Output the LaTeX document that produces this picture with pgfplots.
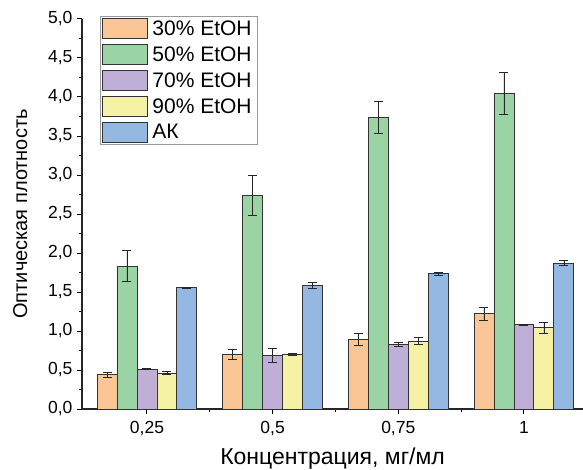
\documentclass[border=0pt]{standalone}
\usepackage{pgfplots}
\pgfplotsset{compat=1.18}
\usepackage{pgfplotstable}
\usepackage{fontspec}
\setmainfont{Liberation Sans}
\definecolor{cO}{HTML}{FAC696}
\definecolor{cG}{HTML}{9BD4A4}
\definecolor{cP}{HTML}{BFAED6}
\definecolor{cY}{HTML}{F5F2A6}
\definecolor{cB}{HTML}{95B8E2}
\pgfplotstableread{
x o oe g ge p pe y ye b be
1 0.44 0.03 1.83 0.20 0.51 0.008 0.46 0.02 1.555 0.008
2 0.70 0.07 2.74 0.26 0.69 0.09 0.70 0.01 1.58 0.04
3 0.89 0.08 3.74 0.21 0.83 0.03 0.87 0.045 1.735 0.018
4 1.22 0.08 4.05 0.27 1.08 0.005 1.04 0.065 1.87 0.035
}\data
\begin{document}
\begin{tikzpicture}
\begin{axis}[
  at={(0,0)}, anchor=south west,
  scale only axis, width=501pt, height=390pt,
  xmin=0.483, xmax=4.47, ymin=0, ymax=5,
  axis x line*=bottom, axis y line*=left,
  axis line style={-, line width=1.3pt, black!85},
  ybar=0pt, bar width=0.159,
  xtick={1,2,3,4}, xticklabels={{0,25},{0,5},{0,75},1},
  minor xtick={1.5,2.5,3.5},
  ytick={0,0.5,...,5}, minor y tick num=1,
  tick align=outside, major tick length=5pt, minor tick length=3pt,
  tick style={black, line width=1pt},
  /pgf/number format/assume math mode=true,
  tick label style={font=\fontsize{17.5}{20}\selectfont},
  yticklabel style={/pgf/number format/fixed, /pgf/number format/precision=1,
    /pgf/number format/fixed zerofill, /pgf/number format/use comma, xshift=-1pt,
    font=\fontsize{17.5}{20}\selectfont},
  xticklabel style={yshift=-4pt, font=\fontsize{17.5}{20}\selectfont},
  xlabel={Концентрация, мг/мл}, ylabel={Оптическая плотность},
  xlabel style={font=\fontsize{23}{26}\selectfont, yshift=-5pt},
  ylabel style={font=\fontsize{20}{24}\selectfont, yshift=14pt},
  legend image code/.code={\draw[#1, line width=0.9pt] (0pt,-10pt) rectangle (45pt,10pt);},
  legend style={at={(0.036,1.008)}, anchor=north west, draw=gray!80, line width=1pt,
    font=\fontsize{21}{23}\selectfont, inner xsep=1.5pt, inner ysep=2pt, row sep=5pt,
    cells={anchor=west}, nodes={inner xsep=4.5pt}},
  error bars/error bar style={black!85, line width=0.8pt},
  error bars/error mark options={rotate=90, black!85, mark size=4.5pt, line width=0.8pt},
]
\addplot[fill=cO, draw=black!80, line width=0.9pt, error bars/.cd, y dir=both, y explicit] table[x=x, y=o, y error=oe]{\data};
\addplot[fill=cG, draw=black!80, line width=0.9pt, error bars/.cd, y dir=both, y explicit] table[x=x, y=g, y error=ge]{\data};
\addplot[fill=cP, draw=black!80, line width=0.9pt, error bars/.cd, y dir=both, y explicit] table[x=x, y=p, y error=pe]{\data};
\addplot[fill=cY, draw=black!80, line width=0.9pt, error bars/.cd, y dir=both, y explicit] table[x=x, y=y, y error=ye]{\data};
\addplot[fill=cB, draw=black!80, line width=0.9pt, error bars/.cd, y dir=both, y explicit] table[x=x, y=b, y error=be]{\data};
\legend{30\% EtOH, 50\% EtOH, 70\% EtOH, 90\% EtOH, АК}
\end{axis}
\pgfresetboundingbox
\path[use as bounding box] (-82pt,-60pt) rectangle (501pt,409pt);
\end{tikzpicture}
\end{document}
